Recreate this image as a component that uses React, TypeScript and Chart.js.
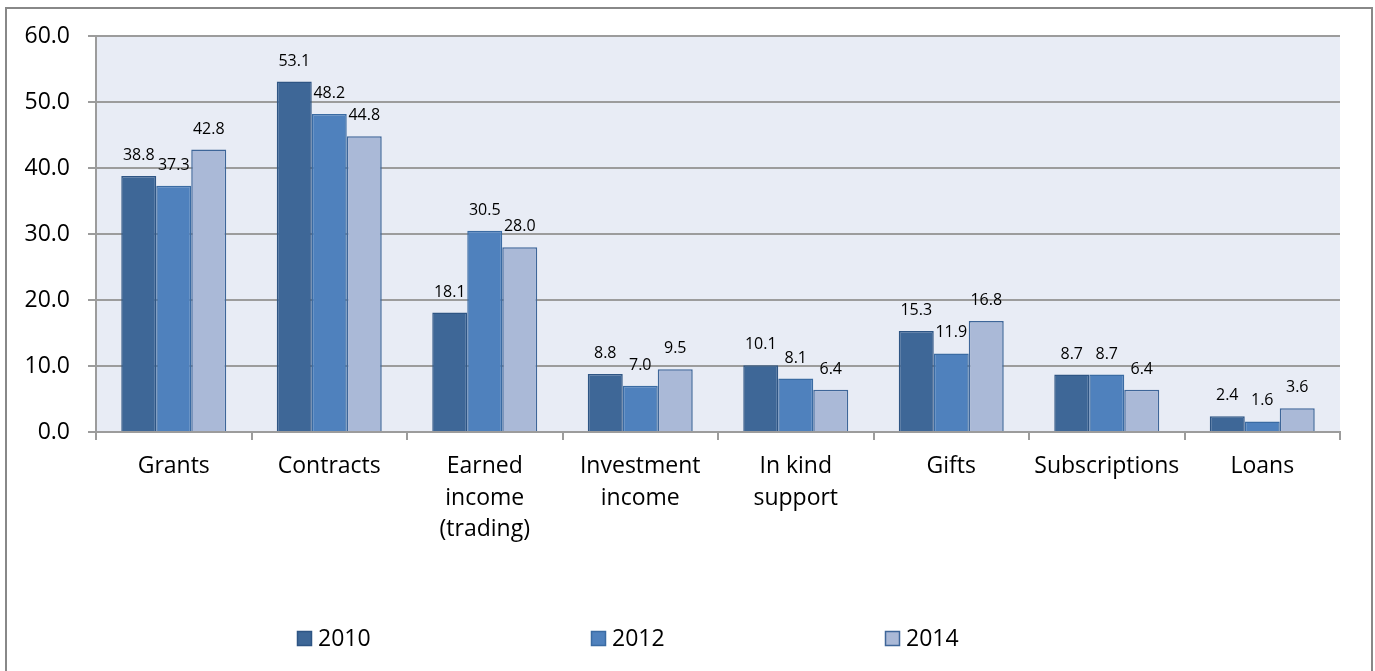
import React, { useEffect, useRef } from "react";
import { Chart, registerables } from "chart.js";

Chart.register(...registerables);

const categories: (string | string[])[] = [
  "Grants",
  "Contracts",
  ["Earned", "income", "(trading)"],
  ["Investment", "income"],
  ["In kind", "support"],
  "Gifts",
  "Subscriptions",
  "Loans",
];
const seriesNames = ["2010", "2012", "2014"];
const values2010 = [38.8, 53.1, 18.1, 8.8, 10.1, 15.3, 8.7, 2.4];
const values2012 = [37.3, 48.2, 30.5, 7.0, 8.1, 11.9, 8.7, 1.6];
const values2014 = [42.8, 44.8, 28.0, 9.5, 6.4, 16.8, 6.4, 3.6];
const fills = ["#3E6797", "#4F81BD", "#AAB9D7"];
const borders = ["#2E5584", "#3A6BA3", "#3E6699"];

const FONT = "'Open Sans', 'DejaVu Sans', sans-serif";
const GRID = "#9C9C9C";

const framePlugin = {
  id: "frame",
  beforeDraw(chart: any) {
    const { ctx, chartArea } = chart;
    ctx.save();
    ctx.fillStyle = "#FFFFFF";
    ctx.fillRect(0, 0, chart.width, chart.height);
    ctx.fillStyle = "#E8ECF5";
    ctx.fillRect(chartArea.left, chartArea.top, chartArea.right - chartArea.left, chartArea.bottom - chartArea.top);
    ctx.strokeStyle = "#888888";
    ctx.lineWidth = 2;
    ctx.strokeRect(6, 8, chart.width - 9, chart.height + 20);
    ctx.restore();
  },
};

const labelPlugin = {
  id: "valueLabels",
  afterDatasetsDraw(chart: any) {
    const { ctx } = chart;
    ctx.save();
    ctx.font = `16px ${FONT}`;
    ctx.fillStyle = "#000";
    ctx.textAlign = "center";
    ctx.textBaseline = "alphabetic";
    chart.data.datasets.forEach((ds: any, i: number) => {
      const meta = chart.getDatasetMeta(i);
      meta.data.forEach((bar: any, j: number) => {
        ctx.fillText(Number(ds.data[j]).toFixed(1), bar.x, bar.y - 16);
      });
    });
    ctx.restore();
  },
};

const legendPlugin = {
  id: "customLegend",
  afterDraw(chart: any) {
    const { ctx } = chart;
    const startX = 297;
    const step = 294;
    const y = 631;
    ctx.save();
    ctx.font = `23px ${FONT}`;
    ctx.textBaseline = "middle";
    ctx.textAlign = "left";
    chart.data.datasets.forEach((ds: any, i: number) => {
      const x = startX + i * step;
      ctx.fillStyle = ds.backgroundColor;
      ctx.fillRect(x, y, 15, 15);
      ctx.strokeStyle = ds.borderColor;
      ctx.lineWidth = 1.5;
      ctx.strokeRect(x + 0.5, y + 0.5, 14, 14);
      ctx.fillStyle = "#000";
      ctx.fillText(ds.label, x + 21, y + 8);
    });
    ctx.restore();
  },
};

export default function App() {
  const ref = useRef<HTMLCanvasElement>(null);
  useEffect(() => {
    if (!ref.current) return;
    const seriesValues = [values2010, values2012, values2014];
    const chart = new Chart(ref.current, {
      type: "bar",
      data: {
        labels: categories,
        datasets: seriesNames.map((name, i) => ({
          label: name,
          data: seriesValues[i],
          backgroundColor: fills[i],
          borderColor: borders[i],
          borderWidth: 1.5,
          categoryPercentage: 0.675,
          barPercentage: 1.0,
        })),
      },
      options: {
        animation: false,
        responsive: false,
        maintainAspectRatio: false,
        layout: { padding: { top: 36, right: 35, left: 0, bottom: 0 } },
        plugins: {
          legend: { display: false },
          tooltip: { enabled: false },
        },
        scales: {
          x: {
            afterFit: (s: any) => {
              s.height = 239;
            },
            grid: {
              drawOnChartArea: false,
              drawTicks: true,
              tickLength: 8,
              color: GRID,
              lineWidth: 2,
              offset: true,
            },
            border: { display: true, color: GRID, width: 2 },
            ticks: {
              font: { family: FONT, size: 23, lineHeight: 1.39 },
              color: "#000",
              padding: 10,
              maxRotation: 0,
              autoSkip: false,
            },
          },
          y: {
            min: 0,
            max: 60,
            afterFit: (s: any) => {
              s.width = 96;
            },
            grid: {
              drawOnChartArea: true,
              drawTicks: true,
              tickLength: 8,
              color: GRID,
              lineWidth: 2,
            },
            border: { display: true, color: GRID, width: 2 },
            ticks: {
              stepSize: 10,
              font: { family: FONT, size: 23 },
              color: "#000",
              padding: 18,
              callback: (v: any) => Number(v).toFixed(1),
            },
          },
        },
      },
      plugins: [framePlugin, labelPlugin, legendPlugin],
    });
    return () => chart.destroy();
  }, []);
  return (
    <div style={{ position: "fixed", left: 0, top: 0, width: 1375, height: 671, background: "#fff" }}>
      <canvas ref={ref} width={1375} height={671} style={{ display: "block", width: 1375, height: 671 }} />
    </div>
  );
}
